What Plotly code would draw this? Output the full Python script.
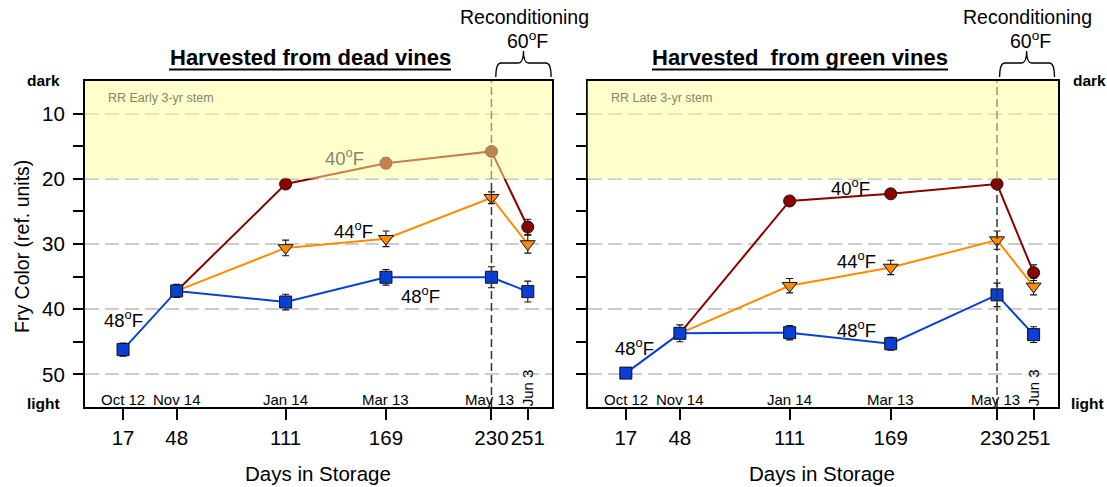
import plotly.graph_objects as go

FONT = "Liberation Sans, Arial, sans-serif"

days = [17, 48, 111, 169, 230, 251]
day_ticks = [17, 48, 111, 169, 230, 251]
date_labels = ["Oct 12", "Nov 14", "Jan 14", "Mar 13", "May 13"]
date_days = [17, 48, 111, 169, 229]

# Left panel: harvested from dead vines
dead_48 = [46.2, 37.2, 38.9, 35.1, 35.1, 37.3]
dead_48_err = [1.0, 1.0, 1.2, 1.2, 1.6, 1.6]
dead_44 = [None, 37.2, 30.6, 29.2, 22.9, 30.0]
dead_44_err = [0, 0, 1.2, 1.2, 0.9, 1.4]
dead_40 = [None, 37.2, 20.8, 17.6, 15.8, 27.4]
dead_40_err = [0, 0, 0.5, 0.8, 0.5, 1.2]

# Right panel: harvested from green vines
green_48 = [49.8, 43.7, 43.6, 45.3, 37.8, 43.9]
green_48_err = [0.3, 1.3, 1.1, 1.0, 1.8, 1.2]
green_44 = [None, 43.7, 36.4, 33.6, 29.4, 36.5]
green_44_err = [0, 0, 1.1, 1.1, 1.4, 1.3]
green_40 = [None, 43.7, 23.4, 22.3, 20.8, 34.4]
green_40_err = [0, 0, 0.6, 0.5, 0.5, 1.2]

y_major = [10, 20, 30, 40, 50]
y_labels = ["10", "20", "30", "40", "50"]

C40 = "#8b0000"
C44 = "#ff8c00"
C48 = "#0a3fd6"

fig = go.Figure()


def add_series(vals, errs, color, symbol, size, xa, ya):
    xs = [d for d, v in zip(days, vals) if v is not None]
    ys = [v for v in vals if v is not None]
    es = [e for e, v in zip(errs, vals) if v is not None]
    sizes = [0 if (i == 0 and symbol != "square") else size for i in range(len(es))]
    fig.add_trace(go.Scatter(
        x=xs, y=ys, mode="lines+markers", xaxis=xa, yaxis=ya,
        line=dict(color=color, width=2),
        marker=dict(color=color, symbol=symbol, size=sizes, opacity=1,
                    line=dict(color="#111111", width=1)),
        error_y=dict(type="data", array=es, visible=True, color="#111111",
                     thickness=1.1, width=3.5),
        showlegend=False, hoverinfo="skip"))


add_series(dead_40, dead_40_err, C40, "circle", 12, "x", "y")
add_series(dead_44, dead_44_err, C44, "triangle-down", 13, "x", "y")
add_series(dead_48, dead_48_err, C48, "square", 12, "x", "y")
add_series(green_40, green_40_err, C40, "circle", 12, "x2", "y2")
add_series(green_44, green_44_err, C44, "triangle-down", 13, "x2", "y2")
add_series(green_48, green_48_err, C48, "square", 12, "x2", "y2")

H = 487.0
W = 1107.0
ydom = [1 - 407 / H, 1 - 81 / H]

xcommon = dict(range=[-5, 265], tickvals=day_ticks, ticktext=[str(d) for d in day_ticks],
               ticks="outside", ticklen=11, tickwidth=2, tickcolor="black",
               showgrid=False, zeroline=False, showline=True, linecolor="black",
               linewidth=2, mirror=True, tickfont=dict(family=FONT, size=20.5, color="black"))
ycommon = dict(range=[55, 5], tickvals=y_major, ticktext=y_labels,
               ticks="outside", ticklen=10, tickwidth=2, tickcolor="black",
               ticklabelstandoff=4,
               showgrid=True, gridcolor="#cccccc", gridwidth=1.5, griddash="14px,6px",
               minor=dict(tickvals=[15, 25, 35, 45], ticks="outside", ticklen=10,
                          tickwidth=2, tickcolor="black", showgrid=False),
               zeroline=False, showline=True, linecolor="black", linewidth=2, mirror=True,
               tickfont=dict(family=FONT, size=20.5, color="black"))

fig.update_layout(
    width=1107, height=487,
    margin=dict(l=0, r=0, t=0, b=0),
    paper_bgcolor="white", plot_bgcolor="white",
    font=dict(family=FONT, color="black"),
    xaxis=dict(domain=[85 / W, 552 / W], anchor="y", **xcommon),
    yaxis=dict(domain=ydom, anchor="x", **ycommon),
    xaxis2=dict(domain=[587.5 / W, 1058 / W], anchor="y2", **xcommon),
    yaxis2=dict(domain=ydom, anchor="x2", showticklabels=False, **ycommon),
)

shapes = []
for xr, yr in [("x", "y"), ("x2", "y2")]:
    shapes.append(dict(type="line", xref=xr, yref=yr, x0=230, x1=230, y0=55, y1=5,
                       line=dict(color="#333333", width=1.5, dash="8px,4px"), layer="above"))
    shapes.append(dict(type="rect", xref=xr + " domain", yref=yr, x0=0, x1=1, y0=5, y1=20,
                       fillcolor="#ffff99", opacity=0.5, line=dict(width=0), layer="above"))


def brace(x0, x1, xt, yb, ym, yt, d):
    return (f"M {x0},{yb} Q {x0},{ym} {x0 + d},{ym} L {xt - d},{ym} "
            f"Q {xt},{ym} {xt},{yt} Q {xt},{ym} {xt + d},{ym} "
            f"L {x1 - d},{ym} Q {x1},{ym} {x1},{yb}")


yb, ym, yt = 1 - 77 / H, 1 - 63 / H, 1 - 51 / H
shapes.append(dict(type="path", xref="x", yref="paper",
                   path=brace(232.5, 264.5, 248.5, yb, ym, yt, 3),
                   line=dict(color="black", width=1.3)))
shapes.append(dict(type="path", xref="x2", yref="paper",
                   path=brace(231.5, 263, 247, yb, ym, yt, 3),
                   line=dict(color="black", width=1.3)))
# title underlines
for xl, xr_ in [(169, 451), (652, 948)]:
    shapes.append(dict(type="line", xref="paper", yref="paper", x0=xl / W, x1=xr_ / W,
                       y0=1 - 69.5 / H, y1=1 - 69.5 / H, line=dict(color="black", width=2.2)))
fig.update_layout(shapes=shapes)

ann = []


def txt(text, x, y, xref="paper", yref="paper", size=19, color="black", **kw):
    ann.append(dict(text=text, x=x, y=y, xref=xref, yref=yref, showarrow=False,
                    xanchor=kw.pop("xanchor", "center"), yanchor="middle",
                    font=dict(family=FONT, size=size, color=color), **kw))


# titles
txt("<b>Harvested from dead vines</b>", 310 / W, 1 - 57 / H, size=22)
txt("<b>Harvested&nbsp; from green vines</b>", 800 / W, 1 - 57 / H, size=22)
# reconditioning
for cx in [524, 1027]:
    txt("Reconditioning", cx / W, 1 - 17 / H, size=19.5)
    txt("60<sup>o</sup>F", (cx + 3) / W, 1 - 40 / H, size=19.5)
# dark / light
txt("<b>dark</b>", 43 / W, 1 - 80 / H, size=15.5)
txt("<b>light</b>", 43 / W, 1 - 403 / H, size=15.5)
txt("<b>dark</b>", 1089 / W, 1 - 81 / H, size=15.5)
txt("<b>light</b>", 1087 / W, 1 - 403 / H, size=15.5)
# axis titles
txt("Fry Color (ref. units)", 22 / W, 1 - 247 / H, size=19.5, textangle=-90)
txt("Days in Storage", 318.5 / W, 1 - 473 / H, size=20.5)
txt("Days in Storage", 822 / W, 1 - 473 / H, size=20.5)

for xr, yr, label in [("x", "y", "RR Early 3-yr stem"), ("x2", "y2", "RR Late 3-yr stem")]:
    txt(label, 0.045, 7.6, xref=xr + " domain", yref=yr, size=12.5, color="#84846a",
        xanchor="left")
    for dl, dd in zip(date_labels, date_days):
        txt(dl, dd, 53.8, xref=xr, yref=yr, size=15)
    txt("Jun 3", 251, 52.0, xref=xr, yref=yr, size=15, textangle=-90)

# series labels, left
txt("48<sup>o</sup>F", 17, 41.5, xref="x", yref="y", size=18.5)
txt("44<sup>o</sup>F", 150, 27.9, xref="x", yref="y", size=18.5)
txt("48<sup>o</sup>F", 189, 37.8, xref="x", yref="y", size=18.5)
txt("40<sup>o</sup>F", 145, 16.7, xref="x", yref="y", size=18.5, color="#84846a")
# series labels, right
txt("48<sup>o</sup>F", 22, 45.8, xref="x2", yref="y2", size=18.5)
txt("44<sup>o</sup>F", 149.5, 32.4, xref="x2", yref="y2", size=18.5)
txt("48<sup>o</sup>F", 149.5, 43.0, xref="x2", yref="y2", size=18.5)
txt("40<sup>o</sup>F", 146, 21.2, xref="x2", yref="y2", size=18.5)

fig.update_layout(annotations=ann)
fig.write_html("out.html")
